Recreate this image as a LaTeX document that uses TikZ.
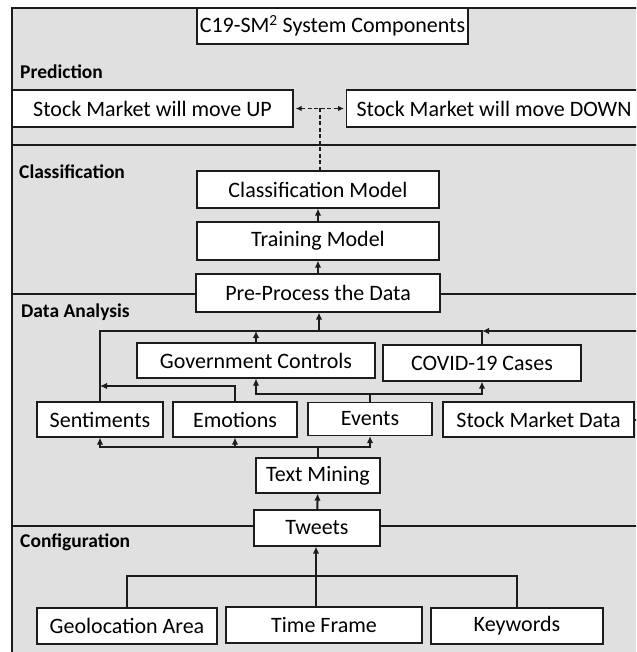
\documentclass[tikz,border=0pt]{standalone}
\usepackage{fontspec}
\setmainfont{Carlito}
\usetikzlibrary{arrows.meta,calc}
\definecolor{panelgray}{RGB}{224,224,224}
\definecolor{ink}{RGB}{28,28,28}
\newcommand{\boxfont}{\fontsize{22}{26}\selectfont}
\newcommand{\partfont}{\fontsize{19.5}{23}\selectfont\bfseries}
\tikzset{blk/.style={draw=ink, fill=white, line width=1.2pt, inner sep=0pt, font=\boxfont},
         part/.style={anchor=west, inner sep=0pt, font=\partfont},
         link/.style={draw=ink, line width=2pt},
         arr/.style={link, -{Latex[length=7pt,width=6.5pt]}},
         dline/.style={draw=ink, line width=1.5pt, dash pattern=on 4pt off 2.5pt},
         divider/.style={draw=ink, line width=1.2pt}}

\begin{document}
\begin{tikzpicture}[x=1pt, y=-1pt]
\useasboundingbox (0,0) rectangle (636,652);
\clip (0,0) rectangle (636,652);

% panel and the four bands
\fill[panelgray] (12,8) rectangle (700,700);
\draw[divider] (12,700) -- (12,8) -- (700,8);
\draw[divider] (12,145) -- (700,145);
\draw[divider] (12,294) -- (700,294);
\draw[divider] (12,526) -- (700,526);

\node[blk, minimum width=271, minimum height=36] (title) at (332.5,26) {C19-SM\textsuperscript{2} System Components};

% prediction
\node[part] (lpred) at (20,72) {Prediction};
\node[blk, minimum width=281, minimum height=37] (up) at (152.5,108.5) {Stock Market will move UP};
\node[blk, anchor=west, minimum height=37, inner xsep=10pt] (down) at (346,108.5) {Stock Market will move DOWN};
\coordinate (pj) at ($(up.east)!0.5!(down.west)$);
\draw[dline, {Latex[length=6pt,width=5.5pt]}-{Latex[length=6pt,width=5.5pt]}, shorten <=2pt, shorten >=2pt] (up.east) -- (down.west);

% classification
\node[part] (lcls) at (19,172) {Classification};
\node[blk, minimum width=242, minimum height=37] (cls) at (318,189.5) {Classification Model};
\node[blk, minimum width=242, minimum height=38] (train) at (318,241) {Training Model};
\node[blk, minimum width=244, minimum height=38] (pre) at (318,293) {Pre-Process the Data};
\draw[dline] (pj) -- (pj |- cls.north);
\draw[arr] (train) -- (cls);
\draw[arr] (pre) -- (train);

% data analysis
\node[part] (lda) at (21,312) {Data Analysis};
\node[blk, minimum width=238, minimum height=35] (gov) at (256,360.5) {Government Controls};
\node[blk, minimum width=198, minimum height=36] (covid) at (482,363) {COVID-19 Cases};
\node[blk, minimum width=126, minimum height=35] (sent) at (100,419.5) {Sentiments};
\node[blk, minimum width=124, minimum height=35] (emo) at (235,419.5) {Emotions};
\node[blk, minimum width=124, minimum height=33] (ev) at (370,419) {Events};
\node[blk, minimum width=191, minimum height=35] (smd) at (538.5,419.5) {Stock Market Data};
\node[blk, minimum width=124, minimum height=35] (tm) at (318,475.5) {Text Mining};

\coordinate (jtop) at (319,331);
\draw[arr] (jtop) -- (jtop |- pre.south);
\draw[link] (sent.north) |- (jtop) -| (covid.north);
\draw[arr] (gov.north) -- (gov.north |- jtop);
\draw[arr] (smd.east) -- ++(20,0) |- (covid.north |- jtop);

\coordinate (jemo) at (100,386);
\draw[arr] (emo.north) |- (jemo);

\coordinate (jev) at (370,394);
\draw[link] (ev.north) -- (jev);
\draw[arr] (jev) -| (gov.south);
\draw[arr] (jev) -| (covid.south);

\coordinate (jtm) at (318,447);
\draw[link] (tm.north) -- (jtm);
\draw[arr] (jtm) -| (sent.south);
\draw[arr] (jtm) -| (emo.south);
\draw[arr] (jtm) -| (ev.south);

% configuration
\node[blk, minimum width=126, minimum height=36] (tw) at (317,528) {Tweets};
\node[part] (lcfg) at (20,542) {Configuration};
\node[blk, minimum width=180, minimum height=36] (geo) at (127,626) {Geolocation Area};
\node[blk, minimum width=196, minimum height=36] (tf) at (324,625) {Time Frame};
\node[blk, minimum width=172, minimum height=36] (kw) at (517,626) {Keywords};
\draw[arr] (tw) -- (tm);

\coordinate (jcfg) at (316,576);
\draw[link] (geo.north) |- (jcfg) -| (kw.north);
\draw[arr] (tf.north -| jcfg) -- (tw.south -| jcfg);
\end{tikzpicture}
\end{document}
